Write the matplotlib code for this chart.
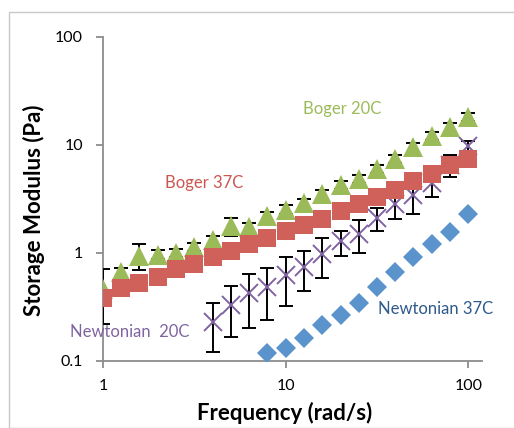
import matplotlib
matplotlib.use("Agg")
import matplotlib.pyplot as plt
from matplotlib.patches import Rectangle
import numpy as np

plt.rcParams['font.family'] = ['Lato', 'DejaVu Sans']

freq = [1.0, 1.26, 1.58, 2.0, 2.51, 3.16, 3.98, 5.01, 6.31, 7.94, 10.0,
        12.6, 15.8, 20.0, 25.1, 31.6, 39.8, 50.1, 63.1, 79.4, 100.0]

boger37 = [0.38, 0.47, 0.52, 0.60, 0.70, 0.79, 0.91, 1.03, 1.19, 1.38, 1.58,
           1.79, 2.06, 2.41, 2.79, 3.27, 3.82, 4.56, 5.37, 6.41, 7.39]

boger20 = [0.46, 0.66, 0.94, 0.96, 1.00, 1.13, 1.30, 1.75, 1.72, 2.17, 2.50,
           2.87, 3.46, 4.25, 4.83, 5.98, 7.39, 9.46, 12.1, 14.5, 18.1]
boger20_err = [0.24, 0.06, 0.25, 0.09, 0.09, 0.10, 0.12, 0.32, 0.16, 0.2, 0.23,
               0.27, 0.32, 0.4, 0.45, 0.55, 0.7, 0.9, 1.1, 1.4, 1.7]

newt20_freq = freq[6:]
newt20 = [0.23, 0.326, 0.42, 0.48, 0.62, 0.74, 0.98, 1.27, 1.50, 2.1, 2.79,
          3.38, 4.4, 6.5, 9.7]
newt20_err = [0.11, 0.16, 0.22, 0.24, 0.30, 0.30, 0.40, 0.33, 0.50, 0.5, 0.75,
              1.1, 1.1, 1.5, 1.1]

newt37_freq = freq[9:]
newt37 = [0.117, 0.130, 0.163, 0.213, 0.267, 0.345, 0.48, 0.66, 0.91, 1.19,
          1.55, 2.26]

c_green = '#9BBB59'
c_red = '#D0605A'
c_purple = '#8064A2'
c_blue = '#5B93CD'
c_blue_text = '#2E5A8C'

fig = plt.figure(figsize=(5.14, 4.28), dpi=100)
fig.patches.append(Rectangle((9/514, 0), 1, 1 - 12/428, transform=fig.transFigure,
                             fill=False, edgecolor='#C8C8C8', linewidth=1.0))
ax = fig.add_axes([103/514, 1 - 360.7/428, (482 - 103)/514, (360.7 - 36.5)/428])
ax.set_xscale('log')
ax.set_yscale('log')
ax.set_xlim(1, 119)
ax.set_ylim(0.1, 100)

# Newtonian 37C
ax.plot(newt37_freq, newt37, linestyle='none', marker='D', markersize=10,
        color=c_blue, markeredgewidth=0, zorder=3)
# Newtonian 20C
ax.errorbar(newt20_freq, newt20, yerr=newt20_err, fmt='none', ecolor='black',
            elinewidth=1.4, capsize=5, capthick=1.4, zorder=2)
ax.plot(newt20_freq, newt20, linestyle='none', marker='x', markersize=13,
        markeredgewidth=1.4, color=c_purple, zorder=3)
# Boger 20C
ax.errorbar(freq, boger20, yerr=boger20_err, fmt='none', ecolor='black',
            elinewidth=1.4, capsize=5, capthick=1.4, zorder=4)
ax.plot(freq, boger20, linestyle='none', marker='^', markersize=15,
        markeredgewidth=0, color=c_green, zorder=5)
# Boger 37C
ax.plot(freq, boger37, linestyle='none', marker='s', markersize=13,
        markeredgewidth=0, color=c_red, zorder=6)

for s in ['top', 'right']:
    ax.spines[s].set_visible(False)
for s in ['left', 'bottom']:
    ax.spines[s].set_color('#8C8C8C')
    ax.spines[s].set_linewidth(1.3)

ax.set_xticks([1, 10, 100])
ax.set_xticklabels(['1', '10', '100'])
ax.set_yticks([0.1, 1, 10, 100])
ax.set_yticklabels(['0.1', '1', '10', '100'])
ax.minorticks_off()
ax.tick_params(axis='both', which='major', length=5, width=1.3, color='#8C8C8C',
               labelsize=11.5, labelcolor='black', direction='out')
ax.tick_params(axis='x', pad=8)
ax.tick_params(axis='y', pad=9.5)

ax.set_xlabel('Frequency (rad/s)', fontsize=16, fontweight='bold')
ax.xaxis.set_label_coords(0.48, -0.162)
ax.set_ylabel('Storage Modulus (Pa)', fontsize=16, fontweight='bold')
ax.yaxis.set_label_coords(-0.183, 0.465)
ax.yaxis.label.set_va('center')
ax.xaxis.label.set_va('center')

ax.text(0.63, 0.776, 'Boger 20C', transform=ax.transAxes, color=c_green,
        fontsize=12, ha='center', va='center')
ax.text(0.267, 0.548, 'Boger 37C', transform=ax.transAxes, color='#CC5550',
        fontsize=12, ha='center', va='center')
ax.text(0.07, 0.087, 'Newtonian  20C', transform=ax.transAxes, color=c_purple,
        fontsize=12, ha='center', va='center')
ax.text(0.878, 0.16, 'Newtonian 37C', transform=ax.transAxes, color=c_blue_text,
        fontsize=12, ha='center', va='center')

fig.savefig('out.png', dpi=100)
